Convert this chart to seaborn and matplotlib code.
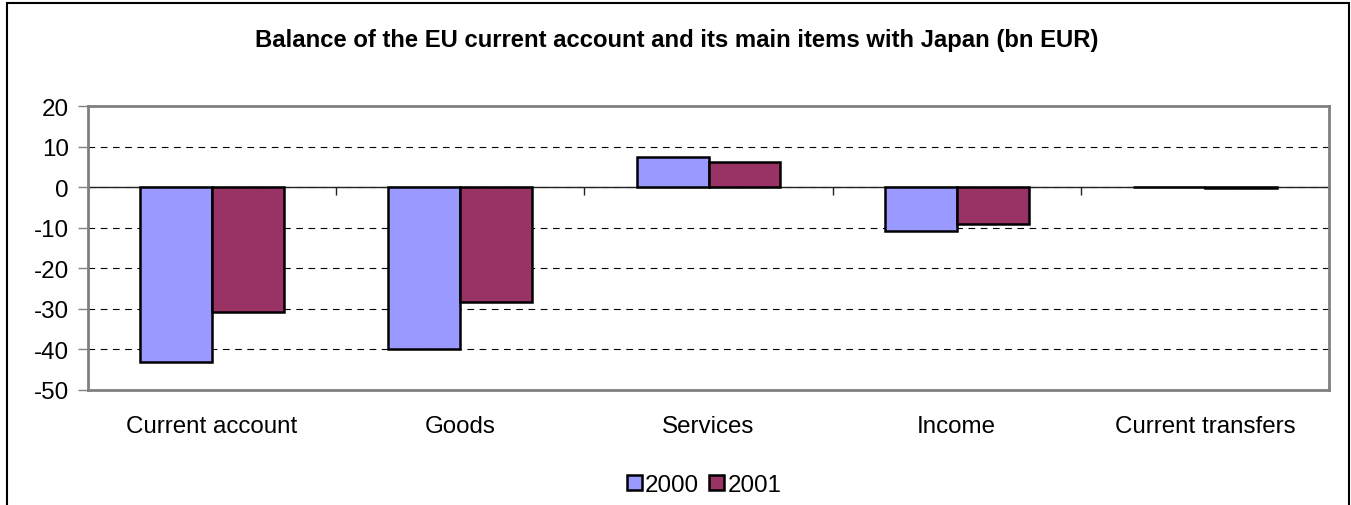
import numpy as np
import pandas as pd
import seaborn as sns
import matplotlib
matplotlib.use("Agg")
import matplotlib.pyplot as plt
from matplotlib.patches import Rectangle

# Balance of the EU current account with Japan, bn EUR
categories = ["Current account", "Goods", "Services", "Income", "Current transfers"]
years = ["2000", "2001"]
values_2000 = [-43.0, -40.0, 7.5, -10.8, 0.0]
values_2001 = [-30.8, -28.3, 6.3, -9.1, -0.2]
y_ticks = [20, 10, 0, -10, -20, -30, -40, -50]

df = pd.DataFrame({
    "category": categories * 2,
    "year": [years[0]] * len(categories) + [years[1]] * len(categories),
    "value": values_2000 + values_2001,
})

sns.set_theme(style="white")
plt.rcParams["font.family"] = ["Liberation Sans", "DejaVu Sans"]
plt.rcParams["text.color"] = "black"

LABEL_SIZE = 17.4

fig = plt.figure(figsize=(13.51, 5.06), dpi=100)
ax = fig.add_axes([88 / 1351, 115 / 506, (1329 - 88) / 1351, (391 - 107) / 506])

palette = {"2000": "#9999FF", "2001": "#993366"}
sns.barplot(data=df, x="category", y="value", hue="year", order=categories,
            hue_order=years, palette=palette, width=0.58, gap=0,
            edgecolor="black", linewidth=1.8, saturation=1, ax=ax,
            errorbar=None, zorder=3)

ax.set_ylim(-50, 20)
ax.set_xlim(-0.5, len(categories) - 0.5)
ax.set_yticks(y_ticks)
ax.set_yticklabels([str(t) for t in y_ticks])
ax.set_xlabel("")
ax.set_ylabel("")

# dashed horizontal gridlines and a solid zero line
ax.set_axisbelow(True)
ax.yaxis.grid(True, color="black", linestyle=(0, (6, 5)), linewidth=0.8)
ax.axhline(0, color="#222222", linewidth=1.0, zorder=2)
# category separator ticks on the zero line
bounds = np.arange(len(categories) + 1) - 0.5
ax.vlines(bounds, 0, -2, color="#222222", linewidth=1.0, zorder=2)

for sp in ax.spines.values():
    sp.set_color("#808080")
    sp.set_linewidth(2)

ax.tick_params(axis="y", which="major", left=True, length=7, width=1,
               color="#808080", labelcolor="black", labelsize=LABEL_SIZE, pad=7)
ax.tick_params(axis="x", length=0, labelcolor="black", labelsize=LABEL_SIZE, pad=18)

leg = ax.legend(loc="center", ncol=2, frameon=False,
                fontsize=LABEL_SIZE, handlelength=0.62, handleheight=0.62,
                handletextpad=0.12, columnspacing=0.45, borderaxespad=0)
leg.set_bbox_to_anchor((704 / 1351, 1 - 486 / 506), transform=fig.transFigure)
for t in leg.get_texts():
    t.set_color("black")

fig.text(677 / 1351, 1 - 40 / 506,
         "Balance of the EU current account and its main items with Japan (bn EUR)",
         ha="center", va="center", fontsize=17.2, fontweight="bold", color="black")

# outer chart frame
fig.patches.append(Rectangle((7 / 1351, -0.1), (1349 - 7) / 1351, 1.1 - 4 / 506,
                             transform=fig.transFigure, fill=False,
                             edgecolor="black", linewidth=1.5))

fig.savefig("out.png", dpi=100)
